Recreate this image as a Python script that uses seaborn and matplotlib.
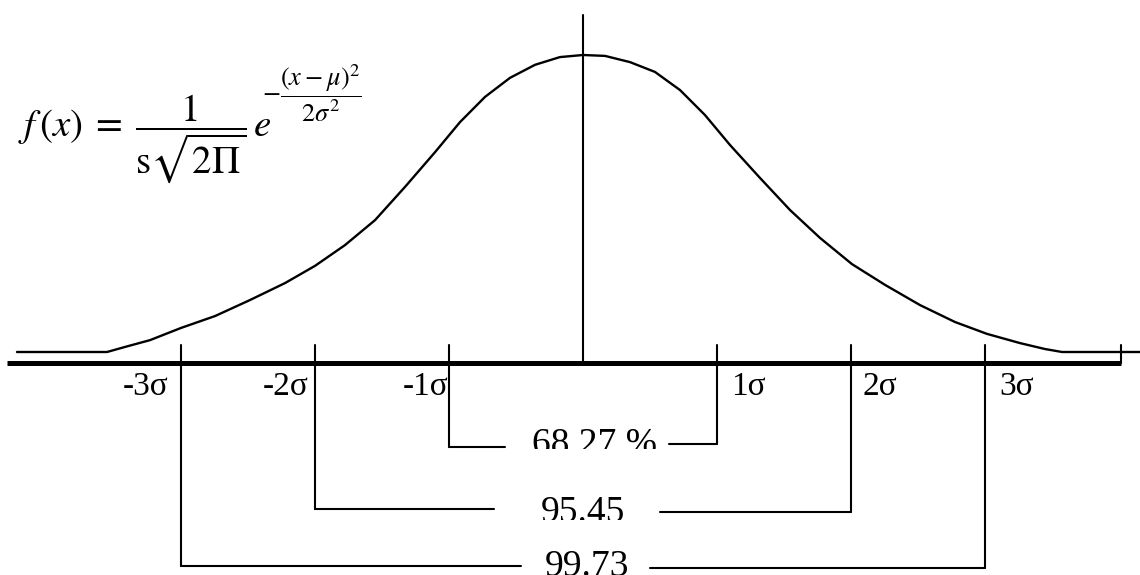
import matplotlib
matplotlib.use("Agg")
import matplotlib.pyplot as plt
import seaborn as sns
from matplotlib.patches import Rectangle

sns.set_theme(style="white")
plt.rcParams["font.family"] = ["Liberation Serif", "DejaVu Serif"]
plt.rcParams["mathtext.fontset"] = "stix"

# Bell curve: x in units of sigma, height relative to the peak
curve_x = [-4.224, -3.552, -3.418, -3.231, -3.000, -2.746, -2.485, -2.224,
           -2.000, -1.776, -1.552, -1.328, -1.104, -0.918, -0.731, -0.545,
           -0.358, -0.172, 0.000, 0.164, 0.351, 0.537, 0.724, 0.910, 1.097,
           1.321, 1.545, 1.769, 2.007, 2.254, 2.515, 2.776, 3.015, 3.261,
           3.448, 3.575, 4.157]
curve_y = [0.000, 0.000, 0.017, 0.040, 0.081, 0.121, 0.175, 0.232,
           0.290, 0.360, 0.444, 0.556, 0.673, 0.774, 0.859, 0.923,
           0.967, 0.993, 1.000, 0.997, 0.976, 0.943, 0.882, 0.798, 0.697,
           0.586, 0.478, 0.384, 0.296, 0.226, 0.158, 0.101, 0.061, 0.030,
           0.010, 0.000, 0.000]

sigma_ticks = [-3, -2, -1, 1, 2, 3]
sigma_labels = ["-3σ", "-2σ", "-1σ", "1σ", "2σ", "3σ"]

coverage_k = [1, 2, 3]
coverage_labels = ["68.27 %", "95.45", "99.73"]

formula_main = (r"$f\,\left(x\right)\;=\;"
                r"\dfrac{\;1\;}{\mathrm{s}\sqrt{2\Pi}}\,e$")
formula_exp = r"$-\dfrac{\left(x-\mu\right)^{2}}{2\sigma^{2}}$"

# pixel-based layout helpers (figure is 1140 x 575 px, mean at x=583, sigma=134 px)
X0, SX, Y0, SY = 583.0, 134.0, 352.0, 297.0


def xd(px):
    return (px - X0) / SX


def yd(py):
    return (Y0 - py) / SY


fig = plt.figure(figsize=(11.4, 5.75), dpi=100)
ax = fig.add_axes([0, 0, 1, 1])
ax.set_xlim(xd(0), xd(1140))
ax.set_ylim(yd(575), yd(0))
ax.axis("off")

ink = "black"

# density curve
sns.lineplot(x=curve_x, y=curve_y, color=ink, lw=1.7, sort=False, ax=ax)

# baseline axis, mean line and end tick
ax.plot([xd(7), xd(1121)], [yd(363), yd(363)], color=ink, lw=3.6,
        solid_capstyle="butt")
ax.plot([0, 0], [yd(15), yd(363)], color=ink, lw=1.5)
ax.plot([xd(1121), xd(1121)], [yd(345), yd(363)], color=ink, lw=1.5)

# sigma labels
label_dx = [-12, -6, 0, 14, 11, 14]
for k, lab, dx in zip(sigma_ticks, sigma_labels, label_dx):
    ha = "right" if k < 0 else "left"
    ax.text(k + dx / SX, yd(387), lab, ha=ha, va="center", fontsize=24,
            color=ink)

# coverage brackets
bracket_y_left = [447, 509, 566]
bracket_y_right = [444, 512, 568]
seg_end_left = [505, 494, 521]
seg_start_right = [669, 660, 650]
text_cx = [595, 583, 587]
text_top = [428, 495, 550]
text_clip = [449, 520, 575]
for i, (k, lab) in enumerate(zip(coverage_k, coverage_labels)):
    yl, yr = yd(bracket_y_left[i]), yd(bracket_y_right[i])
    ax.plot([-k, -k], [yd(345), yl], color=ink, lw=1.5)
    ax.plot([k, k], [yd(345), yr], color=ink, lw=1.5)
    ax.plot([-k, xd(seg_end_left[i])], [yl, yl], color=ink, lw=1.5)
    ax.plot([xd(seg_start_right[i]), k], [yr, yr], color=ink, lw=1.5)
    t = ax.text(xd(text_cx[i]), yd(text_top[i]), lab, ha="center", va="top",
                fontsize=27, color=ink, clip_on=True)
    clip = Rectangle((xd(400), yd(text_clip[i])), xd(800) - xd(400),
                     yd(text_top[i] - 20) - yd(text_clip[i]),
                     transform=ax.transData)
    t.set_clip_path(clip)

# formula
ax.text(xd(18), yd(136), formula_main, ha="left", va="baseline", fontsize=28,
        color=ink)
ax.text(xd(262), yd(93), formula_exp, ha="left", va="center", fontsize=19,
        color=ink)

fig.savefig("out.png", dpi=100, facecolor="white")
